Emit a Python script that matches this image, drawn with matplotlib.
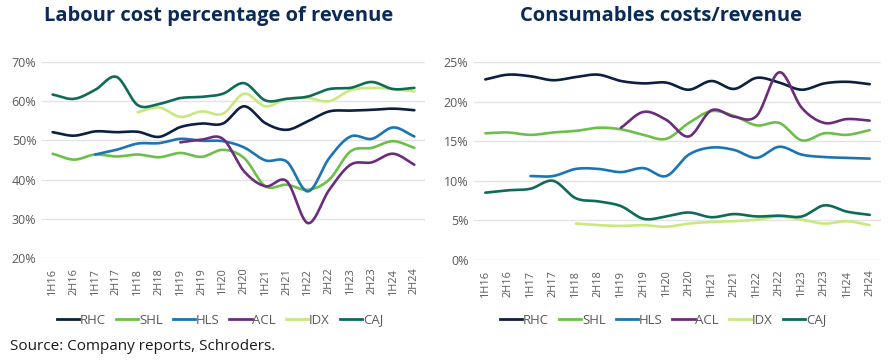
import numpy as np
import matplotlib
matplotlib.use("Agg")
import matplotlib.pyplot as plt
from matplotlib.lines import Line2D

plt.rcParams['font.family'] = ['Open Sans', 'DejaVu Sans']

periods = ["1H16", "2H16", "1H17", "2H17", "1H18", "2H18", "1H19", "2H19", "1H20",
           "2H20", "1H21", "2H21", "1H22", "2H22", "1H23", "2H23", "1H24", "2H24"]
series_names = ["RHC", "SHL", "HLS", "ACL", "IDX", "CAJ"]
series_colors = ["#0b1f3f", "#6cc04a", "#1b75b3", "#6b2d7b", "#c9e87e", "#0e6b58"]

N = None
# Labour cost percentage of revenue (%)
labour_rhc = [52.1, 51.2, 52.3, 52.1, 52.2, 50.9, 53.4, 54.3, 54.3, 58.7, 54.4, 52.7, 54.9, 57.4, 57.6, 57.8, 58.1, 57.7]
labour_shl = [46.6, 45.1, 46.4, 45.9, 46.4, 45.7, 46.8, 45.8, 47.6, 45.5, 38.3, 38.7, 37.4, 40.0, 47.2, 48.1, 49.8, 48.1]
labour_hls = [N, N, 46.4, 47.6, 49.2, 49.3, 50.4, 49.9, 49.8, 48.2, 44.9, 44.6, 37.0, 45.5, 51.0, 50.4, 53.3, 51.0]
labour_acl = [N, N, N, N, N, N, 49.5, 50.2, 50.4, 42.1, 38.3, 39.6, 28.9, 37.4, 43.8, 44.4, 46.6, 43.8]
labour_idx = [N, N, N, N, 57.2, 58.4, 56.0, 57.4, 56.8, 61.9, 58.7, 60.6, 60.8, 60.0, 62.8, 63.4, 63.1, 62.5]
labour_caj = [61.7, 60.6, 62.9, 66.2, 59.0, 59.3, 60.8, 61.1, 61.9, 64.6, 60.2, 60.6, 61.2, 63.1, 63.4, 64.9, 63.1, 63.4]

# Consumables costs / revenue (%)
cons_rhc = [22.8, 23.4, 23.2, 22.7, 23.1, 23.4, 22.6, 22.3, 22.4, 21.5, 22.6, 21.6, 23.0, 22.4, 21.5, 22.3, 22.5, 22.2]
cons_shl = [16.0, 16.1, 15.8, 16.1, 16.3, 16.7, 16.5, 15.8, 15.3, 17.3, 18.8, 18.2, 17.0, 17.3, 15.1, 16.0, 15.8, 16.4]
cons_hls = [N, N, 10.6, 10.6, 11.5, 11.5, 11.1, 11.6, 10.6, 13.3, 14.2, 13.9, 12.9, 14.3, 13.3, 13.0, 12.9, 12.8]
cons_acl = [N, N, N, N, N, N, 16.7, 18.7, 17.7, 15.6, 18.9, 18.1, 18.2, 23.7, 19.2, 17.3, 17.8, 17.6]
cons_idx = [N, N, N, N, 4.6, 4.4, 4.3, 4.4, 4.2, 4.6, 4.8, 4.9, 5.1, 5.5, 5.1, 4.6, 4.9, 4.4]
cons_caj = [8.5, 8.8, 9.0, 10.0, 7.8, 7.4, 6.8, 5.2, 5.5, 6.0, 5.4, 5.8, 5.5, 5.6, 5.5, 6.9, 6.1, 5.7]

labour = [labour_rhc, labour_shl, labour_hls, labour_acl, labour_idx, labour_caj]
cons = [cons_rhc, cons_shl, cons_hls, cons_acl, cons_idx, cons_caj]

labour_ticks = [20, 30, 40, 50, 60, 70]
cons_ticks = [0, 5, 10, 15, 20, 25]


def smooth(xs, ys, n=24):
    xs = np.asarray(xs, float)
    ys = np.asarray(ys, float)
    if len(xs) < 3:
        return xs, ys
    m = np.zeros_like(ys)
    m[1:-1] = (ys[2:] - ys[:-2]) / (xs[2:] - xs[:-2])
    m[0] = (ys[1] - ys[0]) / (xs[1] - xs[0])
    m[-1] = (ys[-1] - ys[-2]) / (xs[-1] - xs[-2])
    outx, outy = [], []
    for i in range(len(xs) - 1):
        h = xs[i + 1] - xs[i]
        t = np.linspace(0, 1, n, endpoint=(i == len(xs) - 2))
        h00 = 2 * t**3 - 3 * t**2 + 1
        h10 = t**3 - 2 * t**2 + t
        h01 = -2 * t**3 + 3 * t**2
        h11 = t**3 - t**2
        outx.append(xs[i] + t * h)
        outy.append(h00 * ys[i] + h10 * h * m[i] + h01 * ys[i + 1] + h11 * h * m[i + 1])
    return np.concatenate(outx), np.concatenate(outy)


fig = plt.figure(figsize=(8.93, 3.61), dpi=100)
W, H = 893, 361


def make_axes(left, right, top, bottom):
    return fig.add_axes([left / W, 1 - bottom / H, (right - left) / W, (bottom - top) / H])


title_color = "#0b2a55"
tick_color = "#595959"
grid_color = "#e3e3e3"


def draw(ax, data, ticks, title, title_x):
    x = np.arange(len(periods))
    for vals, name, col in zip(data, series_names, series_colors):
        pts = [(xi, v) for xi, v in zip(x, vals) if v is not None]
        px = [p[0] for p in pts]
        py = [p[1] for p in pts]
        sx, sy = smooth(px, py)
        ax.plot(sx, sy, color=col, lw=1.9, solid_capstyle='round', zorder=3)
    ax.set_xlim(-0.5, len(periods) - 0.5)
    ax.set_ylim(ticks[0], ticks[-1])
    ax.set_yticks(ticks)
    ax.set_yticklabels([f"{t}%" for t in ticks], color=tick_color, fontsize=9)
    ax.set_xticks(x)
    ax.set_xticklabels(periods, rotation=90, color=tick_color, fontsize=7.8)
    ax.tick_params(length=0, pad=4)
    ax.tick_params(axis='x', pad=7)
    for s in ax.spines.values():
        s.set_visible(False)
    ax.grid(axis='y', color=grid_color, lw=1.0, zorder=0)
    ax.set_axisbelow(True)
    fig.text(title_x / W, 1 - 16 / H, title, ha='center', va='center',
             fontsize=14.5, fontweight='bold', color=title_color)


ax1 = make_axes(42, 425, 62, 258)
draw(ax1, labour, labour_ticks, "Labour cost percentage of revenue", 219)
ax2 = make_axes(474, 881, 62, 260)
draw(ax2, cons, cons_ticks, "Consumables costs/revenue", 661)

handles = [Line2D([0], [0], color=c, lw=2.0) for c in series_colors]
for cx in (220, 663):
    fig.legend(handles, series_names, loc='center', bbox_to_anchor=(cx / W, 1 - 320 / H),
               ncol=6, frameon=False, fontsize=9.5, handlelength=1.7, handletextpad=0.05,
               columnspacing=0.75, labelcolor=tick_color)

fig.text(10 / W, 1 - 347 / H, "Source: Company reports, Schroders.", ha='left', va='center',
         fontsize=11, color="#1a1a1a")

fig.savefig("out.png", dpi=100, facecolor="white")
